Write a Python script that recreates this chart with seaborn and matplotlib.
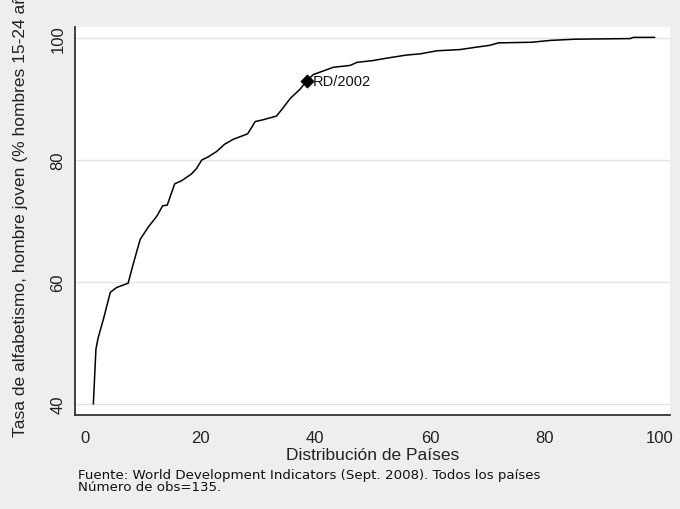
import matplotlib
matplotlib.use("Agg")
import matplotlib.pyplot as plt
import seaborn as sns
import pandas as pd

# ---- data ----
dist_paises = [1.45, 1.9, 2.3, 3.2, 4.4, 5.5, 7.5, 8.4, 9.6, 11.0, 12.5, 13.5, 14.3,
               15.6, 16.8, 18.5, 19.4, 20.3, 21.4, 22.9, 24.3, 25.8, 27.5, 28.3,
               29.6, 31.0, 33.3, 34.5, 35.7, 37.4, 38.6, 39.7, 43.2, 46.1, 47.3,
               50.1, 52.5, 55.9, 58.3, 61.2, 65.2, 68.1, 70.4, 71.9, 77.7, 80.9,
               85.2, 94.8, 95.4, 99.1]
tasa_alfab = [40.0, 49.0, 50.9, 53.9, 58.3, 59.1, 59.8, 63.0, 67.0, 69.0, 70.8, 72.5,
              72.6, 76.1, 76.6, 77.7, 78.6, 80.0, 80.5, 81.4, 82.6, 83.4, 84.0, 84.3,
              86.3, 86.6, 87.2, 88.6, 90.1, 91.6, 93.0, 94.0, 95.2, 95.5, 96.0, 96.3,
              96.7, 97.2, 97.4, 97.9, 98.1, 98.5, 98.8, 99.2, 99.3, 99.6, 99.8, 99.9,
              100.1, 100.1]
resaltado_x = [38.6]
resaltado_y = [93.0]
resaltado_label = ["RD/2002"]

x_ticks = [0, 20, 40, 60, 80, 100]
y_ticks = [40, 60, 80, 100]

x_label = "Distribución de Países"
y_label = "Tasa de alfabetismo, hombre joven (% hombres 15-24 años)"
nota_1 = "Fuente: World Development Indicators (Sept. 2008). Todos los países"
nota_2 = "Número de obs=135."

df = pd.DataFrame({"x": dist_paises, "y": tasa_alfab})
df_pt = pd.DataFrame({"x": resaltado_x, "y": resaltado_y})

sns.set_style("white")
plt.rcParams["font.family"] = ["Liberation Sans", "DejaVu Sans"]

BG = "#eeeeee"
fig = plt.figure(figsize=(6.8, 5.1), dpi=100, facecolor=BG)
ax = fig.add_axes([75 / 680, (510 - 416) / 510, 595 / 680, 388 / 510])
ax.set_facecolor("white")

for yv in y_ticks:
    ax.axhline(yv, color="#e4e4e4", lw=1.0, zorder=0)

sns.lineplot(data=df, x="x", y="y", ax=ax, color="black", lw=1.1,
             estimator=None, sort=False, zorder=3)
sns.scatterplot(data=df_pt, x="x", y="y", ax=ax, marker="D", s=45,
                color="black", edgecolor="black", zorder=4)
for xv, yv, lab in zip(resaltado_x, resaltado_y, resaltado_label):
    ax.annotate(lab, (xv, yv), xytext=(4, 0), textcoords="offset points",
                ha="left", va="center", fontsize=10.5, color="#111111")

ax.set_xlim(-1.74, 101.74)
ax.set_ylim(38.2, 101.8)
ax.set_xticks(x_ticks)
ax.set_yticks(y_ticks)
ax.set_xticklabels([str(v) for v in x_ticks])
ax.set_yticklabels([str(v) for v in y_ticks], rotation=90, va="center")

for side in ["top", "right"]:
    ax.spines[side].set_visible(False)
for side in ["left", "bottom"]:
    ax.spines[side].set_color("#333333")
    ax.spines[side].set_linewidth(1.3)

ax.tick_params(axis="both", direction="out", length=5, width=1.1,
               color="#333333", labelsize=12, labelcolor="#222222")
ax.tick_params(axis="y", pad=2)
ax.tick_params(axis="x", pad=6)

ax.set_xlabel(x_label, fontsize=12.5, color="#222222", labelpad=1)
ax.set_ylabel(y_label, fontsize=12.5, color="#222222")
ax.yaxis.label.set_ha("left")
ax.yaxis.label.set_va("center")
ax.yaxis.set_label_coords((20 - 75) / 595, (416 - 437) / 388)

fig.text(78 / 680, (510 - 476) / 510, nota_1, fontsize=9.6, color="#111111",
         ha="left", va="center", family=["DejaVu Sans"])
fig.text(78 / 680, (510 - 487.5) / 510, nota_2, fontsize=9.6, color="#111111",
         ha="left", va="center", family=["DejaVu Sans"])

fig.savefig("out.png", dpi=100, facecolor=BG)
